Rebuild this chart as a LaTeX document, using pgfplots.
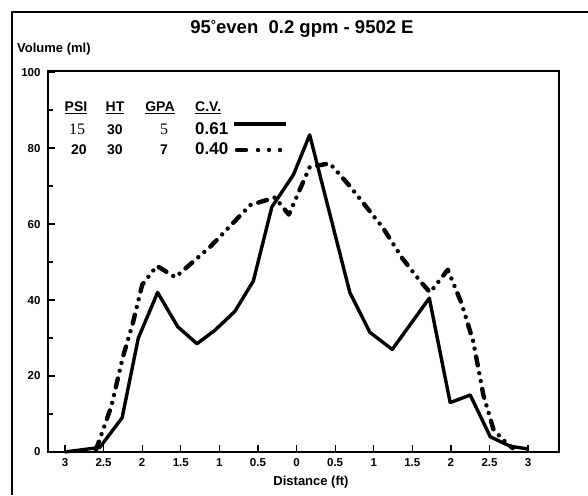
\documentclass[border=0pt]{standalone}
\usepackage{fontspec}
\setmainfont{Liberation Sans}
\newfontfamily\seriffont{Liberation Serif}
\usepackage{pgfplots}
\pgfplotsset{compat=1.18}
\begin{document}
\begin{tikzpicture}[x=1pt,y=1pt]
% bounding box = 588 x 495, axis SW corner at pixel (48,452)
\useasboundingbox (-48,-43) rectangle (540,452);
\begin{axis}[
    at={(0,0)}, anchor=south west,
    scale only axis,
    width=511pt, height=381pt,
    xmin=-3.22, xmax=3.40,
    ymin=0, ymax=100.3,
    axis line style={line width=2.4pt},
    tick pos=left,
    tick align=inside,
    major tick length=7pt,
    minor tick length=5pt,
    every tick/.style={black, line width=1.3pt},
    xtick={-3,-2.5,-2,-1.5,-1,-0.5,0,0.5,1,1.5,2,2.5,3},
    xticklabels={3,2.5,2,1.5,1,0.5,0,0.5,1,1.5,2,2.5,3},
    ytick={0,20,40,60,80,100},
    yticklabels={0,20,40,60,80,100},
    minor ytick={10,30,50,70,90},
    tick label style={font=\bfseries\fontsize{11.5}{12}\selectfont},
    xticklabel style={yshift=-3pt},
    yticklabel style={xshift=-4pt},
    clip=false,
]
% PSI 15, C.V. 0.61
\addplot[black, line width=3.4pt, line join=round] coordinates {
    (-3.00,0) (-2.55,1.2) (-2.26,9) (-2.05,30) (-1.80,42) (-1.54,33)
    (-1.29,28.5) (-1.06,32) (-0.80,37) (-0.56,45) (-0.32,64.5) (-0.04,73)
    (0.17,83.5) (0.69,42) (0.95,31.5) (1.24,27) (1.72,40.5) (1.99,13)
    (2.25,15) (2.51,4) (2.77,1.5) (3.00,0.8)
};
% PSI 20, C.V. 0.40
\addplot[black, line width=4.4pt, line cap=round, line join=round,
    dash pattern=on 9pt off 8pt on 0pt off 8pt on 0pt off 8pt] coordinates {
    (-2.60,0.5) (-2.40,12) (-2.25,25) (-2.12,34) (-2.00,44) (-1.81,49)
    (-1.57,46) (-1.12,54) (-0.60,65) (-0.28,67) (-0.10,62.5) (0.17,75)
    (0.43,76) (0.69,70) (1.12,59) (1.37,51) (1.60,45) (1.73,42)
    (1.96,48) (2.14,39) (2.29,29) (2.42,15) (2.55,6) (2.66,3.5) (2.80,1)
};
\end{axis}
% outer frame
\draw[line width=2.4pt] (-36,-43) -- (-36,440) -- (540,440);
% title and axis labels
\node[anchor=base, font=\bfseries\fontsize{18.5}{20}\selectfont, inner sep=0pt]
    at (254,418) {95\raisebox{0.45ex}{\fontsize{13}{13}\selectfont\textdegree}even\ \ 0.2 gpm - 9502 E};
\node[anchor=base west, font=\bfseries\fontsize{13}{14}\selectfont, inner sep=0pt]
    at (-31,399) {Volume (ml)};
\node[anchor=base, font=\bfseries\fontsize{13}{14}\selectfont, inner sep=0pt]
    at (263,-33) {Distance (ft)};
% legend table
\begin{scope}[every node/.style={inner sep=0pt, font=\bfseries\fontsize{14}{15}\selectfont}]
\node[anchor=base] at (28,340) {\underline{PSI}};
\node[anchor=base] at (67,340) {\underline{HT}};
\node[anchor=base] at (112,340) {\underline{GPA}};
\node[anchor=base west] at (147,340) {\underline{C.V.}};
\node[anchor=base, font=\seriffont\fontsize{16}{17}\selectfont] at (29,317) {15};
\node[anchor=base] at (67,317) {30};
\node[anchor=base, font=\seriffont\fontsize{16}{17}\selectfont] at (116,317) {5};
\node[anchor=base west, font=\bfseries\fontsize{17}{18}\selectfont] at (147,317) {0.61};
\node[anchor=base] at (31,297) {20};
\node[anchor=base] at (67,297) {30};
\node[anchor=base] at (116,297) {7};
\node[anchor=base west, font=\bfseries\fontsize{17}{18}\selectfont] at (147,297) {0.40};
\end{scope}
\draw[line width=3.4pt] (186,328) -- (238,328);
\draw[line width=4.4pt, line cap=round,
    dash pattern=on 9pt off 12pt on 0pt off 11pt on 0pt off 11pt on 0pt off 60pt]
    (189,302) -- (236,302);
\end{tikzpicture}
\end{document}
